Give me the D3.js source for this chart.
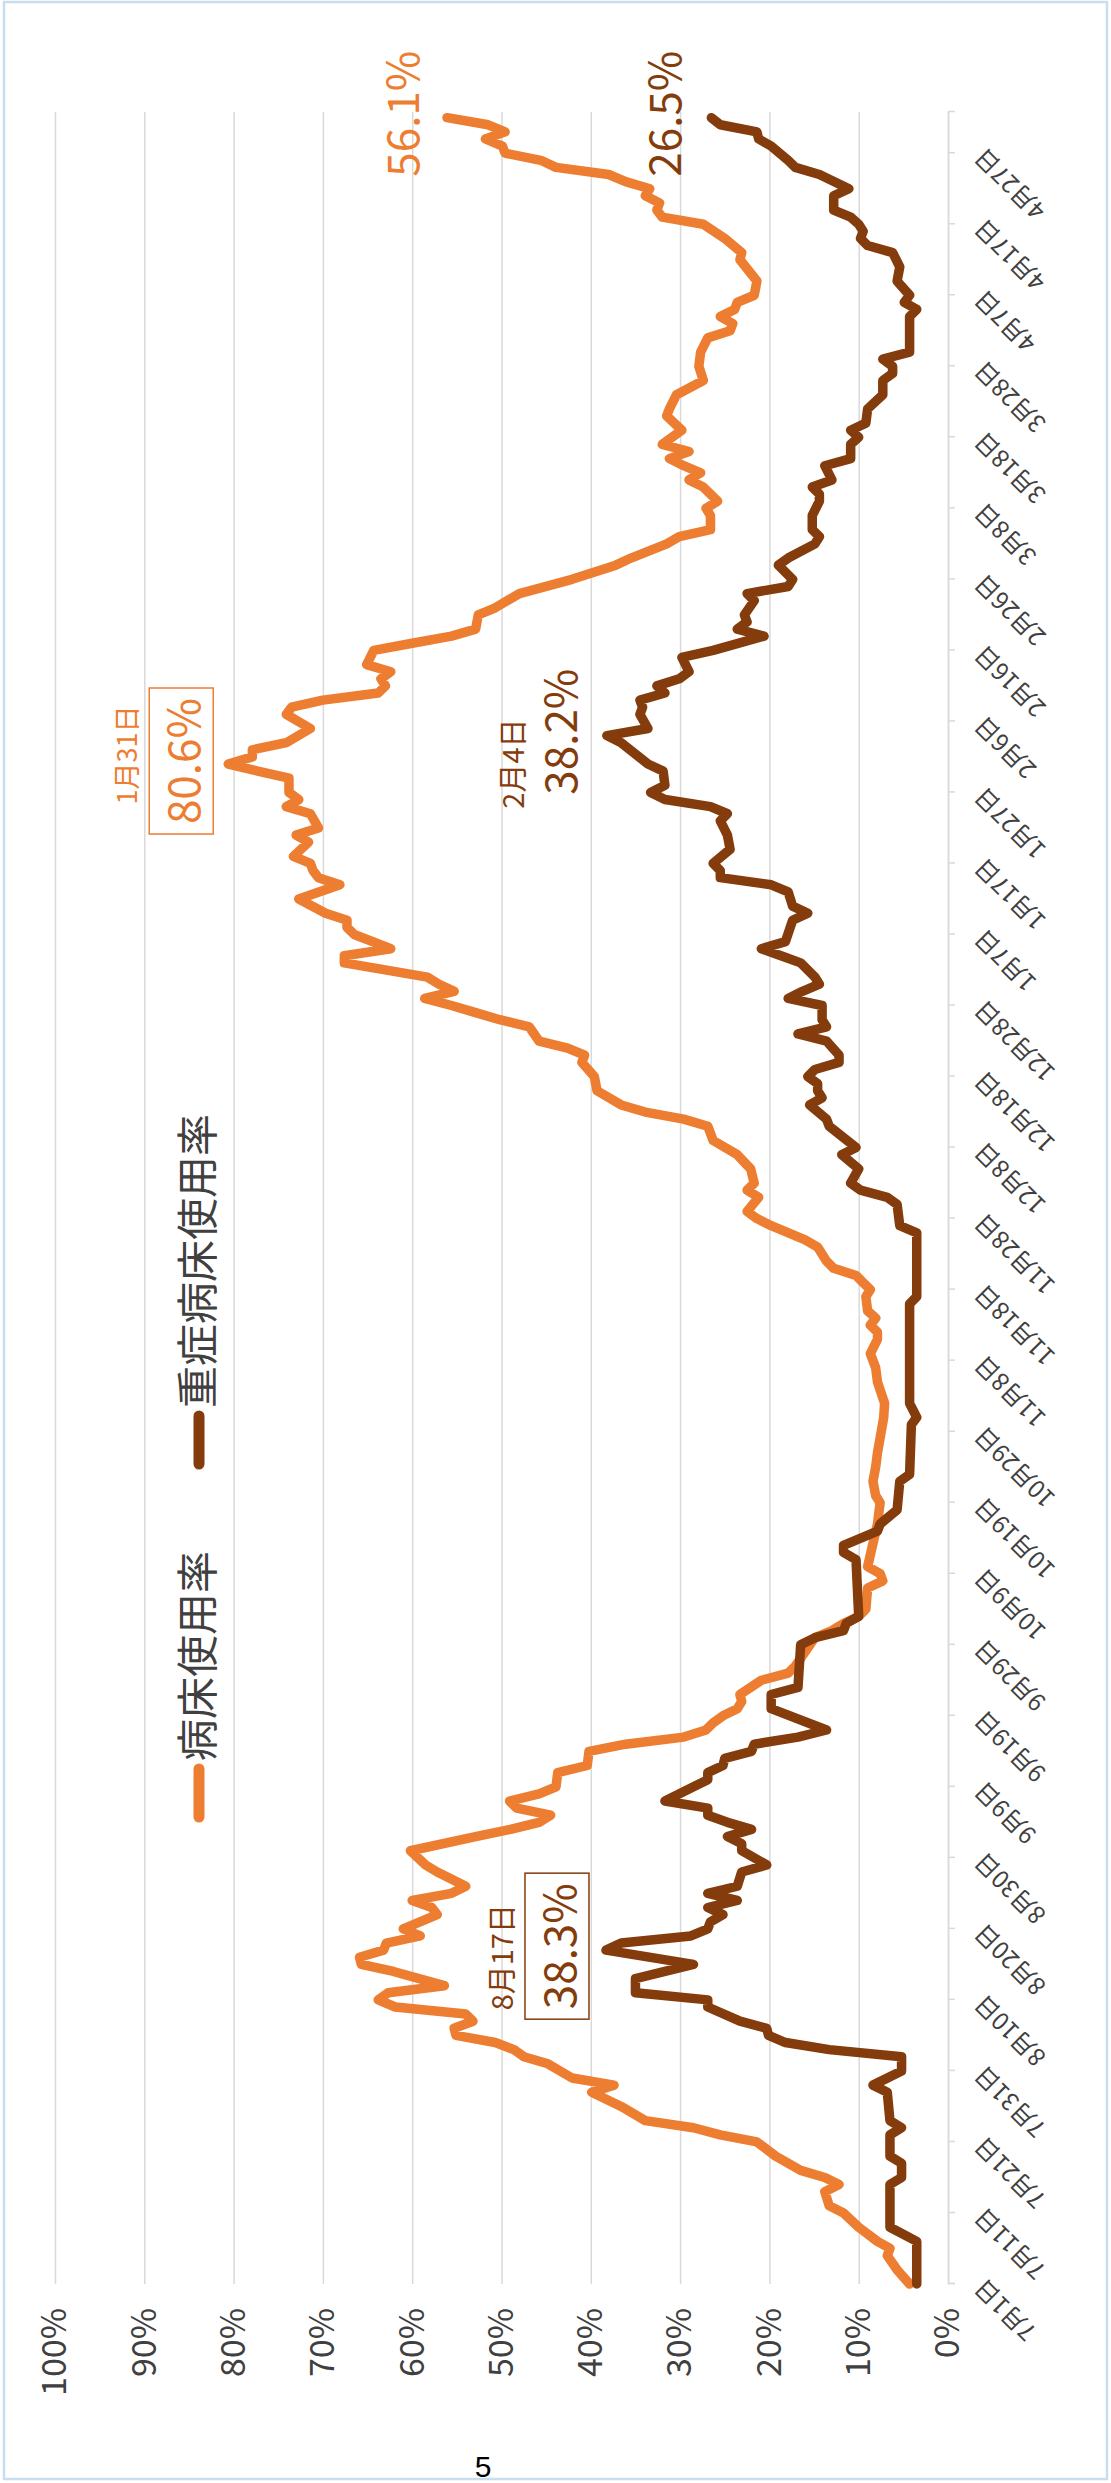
<!DOCTYPE html>
<html>
<head>
<meta charset="utf-8">
<script src="https://cdn.jsdelivr.net/npm/d3@7"></script>
<style>
  body { margin: 0; background: #fff; }
  svg { display: block; }
  text { font-family: "Noto Sans CJK JP", "Noto Sans", sans-serif; }
</style>
</head>
<body>
<div id="chart"></div>
<script>
var svgWidth = 1111;
var svgHeight = 2483;

// days counted from 2020-07-01, rates in %
var bedDays = [0,2,4,5,6,8,10,11,13,14,15,16,18,20,21,22,23,25,27,28,29,31,32,33,34,35,36,37,38,39,40,41,42,44,45,46,47,48,49,50,52,53,54,55,56,58,59,61,63,64,65,66,67,68,69,70,72,73,75,76,77,78,79,80,81,82,83,85,86,87,89,91,92,93,94,95,98,99,100,101,107,110,111,113,115,117,122,124,127,129,131,133,134,135,136,137,139,140,141,142,143,144,146,147,149,150,151,153,154,155,157,159,161,163,164,165,166,168,170,172,173,174,175,177,178,179,180,181,182,183,184,186,187,188,190,191,192,193,195,197,198,199,200,201,203,204,205,207,208,209,210,212,213,214,215,216,217,219,221,222,223,224,225,226,227,228,230,231,232,233,235,236,238,240,242,243,245,246,247,249,250,251,253,254,255,256,257,258,259,261,263,264,266,268,270,272,274,275,276,277,278,279,280,282,285,286,288,290,291,292,293,294,295,296,297,298,299,300,301,302,303,304,305];
var bedRate = [4.3,5.7,6.8,6.5,7.9,10.0,11.7,13.3,13.8,12.2,13.8,16.5,19.3,21.4,25.5,28.5,33.9,36.6,39.9,37.4,42.1,44.8,47.5,48.6,50.7,55.1,55.3,53.2,54.0,61.9,63.8,62.7,56.4,62.1,65.7,65.9,63.2,62.9,59.1,61.0,57.2,57.8,60.0,55.6,54.0,57.2,58.5,60.2,52.9,49.0,45.8,44.5,48.3,49.1,45.8,43.9,43.7,40.4,40.2,36.1,29.6,27.1,26.3,25.2,23.6,23.1,23.3,20.9,17.9,17.1,16.0,14.9,13.0,11.7,10.0,9.2,9.0,7.3,7.6,9.0,7.9,7.6,8.1,8.4,8.1,7.9,7.2,7.1,7.9,8.1,8.7,7.9,7.9,8.7,8.1,9.0,9.2,8.7,9.5,10.3,12.8,13.6,14.6,16.0,19.8,21.4,22.5,21.2,22.5,21.7,22.1,23.6,26.3,26.9,29.6,33.9,36.6,39.3,39.6,41.0,40.7,42.6,45.8,46.9,50.2,52.9,55.6,58.6,55.3,57.0,58.3,67.6,67.6,62.4,66.5,67.3,67.3,69.7,72.7,68.1,70.5,71.1,71.4,73.3,71.6,73.0,70.5,71.4,74.1,72.7,73.8,73.8,77.3,80.6,77.9,77.9,74.1,71.4,74.1,73.5,70.0,63.8,63.0,63.5,62.4,65.1,64.3,60.0,55.6,52.9,52.6,50.7,48.0,42.1,37.2,35.5,31.5,30.1,26.6,26.6,27.1,25.8,27.4,29.0,27.7,29.6,31.2,29.0,32.0,29.8,31.5,31.2,30.4,27.4,27.9,27.7,26.9,24.4,24.1,25.5,23.9,23.6,21.7,21.4,23.3,23.1,25.0,27.4,32.0,32.6,32.3,33.9,33.4,36.1,38.0,43.9,45.6,49.6,49.9,51.8,49.6,51.5,56.1];

var severeDays = [0,6,8,14,15,17,18,21,22,23,27,28,30,32,33,34,35,36,37,39,40,41,43,45,47,48,49,50,51,52,53,54,55,56,58,59,61,62,63,64,65,66,67,68,70,71,72,73,74,75,76,77,78,81,83,84,90,91,92,93,94,102,103,104,106,107,109,113,114,121,122,124,138,139,148,149,152,153,154,155,157,159,160,163,164,166,167,168,169,170,171,172,173,175,176,177,178,180,181,182,183,184,186,187,188,189,192,193,194,196,197,198,199,200,202,204,206,207,208,209,210,211,213,214,217,218,219,221,222,223,224,225,226,227,229,230,232,233,234,235,237,238,239,240,242,243,245,246,247,249,251,252,253,254,256,257,259,260,261,262,264,266,268,269,270,271,272,277,278,279,280,282,284,286,287,288,289,290,291,292,294,295,297,298,299,301,302,303,304,305];
var severeRate = [3.5,3.5,6.5,6.5,5.2,5.2,6.5,6.5,5.2,6.5,6.8,8.4,5.2,5.2,13.3,18.2,20.1,20.3,23.3,26.9,26.9,35.0,35.0,28.5,38.3,36.6,28.8,26.9,26.6,25.2,26.9,23.6,26.9,23.6,23.1,20.3,23.1,23.1,24.7,22.0,24.7,26.9,26.9,31.7,28.5,26.9,26.9,25.2,25.0,22.0,21.7,16.8,13.6,19.8,19.8,16.8,16.5,14.9,11.7,11.4,10.0,10.3,11.7,11.7,7.9,7.6,5.7,5.4,4.3,4.1,3.5,4.3,4.3,3.5,3.5,5.4,5.7,6.8,9.8,10.9,10.0,11.9,10.3,13.3,13.6,15.5,14.1,14.6,14.6,15.7,14.9,12.2,12.2,13.6,16.8,13.6,14.1,14.1,17.9,16.3,14.4,14.9,16.5,18.7,20.9,18.2,17.4,15.7,17.4,17.9,19.8,25.5,25.5,26.3,24.4,24.7,25.5,24.7,26.6,31.7,33.3,31.7,31.9,33.6,36.6,38.2,33.6,34.5,34.2,34.5,31.7,32.6,30.1,29.0,29.8,26.3,20.6,23.6,22.5,22.8,21.7,22.5,17.9,17.4,19.0,17.9,14.9,14.4,15.2,15.2,14.4,14.4,15.2,13.0,13.8,10.9,10.9,10.0,10.9,9.2,9.0,7.3,7.3,6.2,6.2,7.3,4.3,4.3,3.5,4.9,4.3,5.7,5.4,6.2,9.0,9.8,9.5,10.0,10.9,12.8,12.8,11.1,14.4,17.1,17.9,19.8,21.2,21.4,25.5,26.5];

var seriesNames = ["病床使用率", "重症病床使用率"];
var seriesColors = ["#ED7D31", "#843C0C"];

var percentTicks = [0, 10, 20, 30, 40, 50, 60, 70, 80, 90, 100];
var dateTickDays = [0, 10, 20, 30, 40, 50, 60, 70, 80, 90, 100, 110, 120, 130, 140, 150, 160, 170, 180, 190, 200, 210, 220, 230, 240, 250, 260, 270, 280, 290, 300];
var dateTickLabels = ["7月1日", "7月11日", "7月21日", "7月31日", "8月10日", "8月20日", "8月30日", "9月9日", "9月19日", "9月29日", "10月9日", "10月19日", "10月29日", "11月8日", "11月18日", "11月28日", "12月8日", "12月18日", "12月28日", "1月7日", "1月17日", "1月27日", "2月6日", "2月16日", "2月26日", "3月8日", "3月18日", "3月28日", "4月7日", "4月17日", "4月27日"];

// the chart is printed turned a quarter to the left:
// "width" runs along the dates (page bottom -> top), "height" along the rates
var width = 2172;
var height = 893;
var origin = { x: 55, y: 2284 };

var start = new Date(Date.UTC(2020, 6, 1));
function dayToDate(d) { return d3.utcDay.offset(start, d); }

var svg = d3.select("#chart")
  .append("svg")
  .attr("width", svgWidth)
  .attr("height", svgHeight);

// page frame
svg.append("rect")
  .attr("x", 4).attr("y", 2)
  .attr("width", 1103).attr("height", 2477)
  .attr("fill", "none")
  .attr("stroke", "#c9ddf0")
  .attr("stroke-width", 2.5);

// page number
svg.append("text")
  .attr("x", 483).attr("y", 2477)
  .attr("text-anchor", "middle")
  .style("font-family", "'Liberation Sans Narrow', 'Liberation Sans', sans-serif")
  .style("font-size", "30px")
  .attr("fill", "#000")
  .text("5");

var chartGroup = svg.append("g")
  .attr("transform", `translate(${origin.x}, ${origin.y}) rotate(-90)`);

var xScale = d3.scaleUtc()
  .domain([start, new Date(start.getTime() + 305.8 * 864e5)])
  .range([0, width]);

var yScale = d3.scaleLinear()
  .domain([0, 100])
  .range([height, 0]);

// gridlines + percent labels
var leftAxis = d3.axisLeft(yScale)
  .tickValues(percentTicks)
  .tickSize(-width)
  .tickPadding(24)
  .tickFormat(d => d + "%");

var yAxis = chartGroup.append("g").call(leftAxis);
yAxis.select(".domain").remove();
yAxis.selectAll("line").attr("stroke", "#d9d9d9").attr("stroke-width", 1.5);
yAxis.selectAll("text")
  .attr("fill", "#404040")
  .style("font-size", "34px");

// date axis at 0%
var bottomAxis = d3.axisBottom(xScale)
  .tickValues(dateTickDays.map(dayToDate))
  .tickSize(7)
  .tickFormat((d, i) => dateTickLabels[i]);

var xAxis = chartGroup.append("g")
  .attr("transform", `translate(0, ${height})`)
  .call(bottomAxis);
xAxis.select(".domain").attr("stroke", "#d9d9d9").attr("stroke-width", 1.5);
xAxis.selectAll("line").attr("stroke", "#d9d9d9").attr("stroke-width", 1.5);
xAxis.selectAll("text")
  .attr("x", 0)
  .attr("y", 0)
  .attr("dy", "0.35em")
  .attr("text-anchor", "end")
  .attr("transform", "translate(0, 31) rotate(-45)")
  .attr("fill", "#404040")
  .style("font-size", "24px");

// lines
var lineGen = d3.line()
  .x(d => xScale(d.date))
  .y(d => yScale(d.value));

var bedData = bedDays.map((d, i) => ({ date: dayToDate(d), value: bedRate[i] }));
var severeData = severeDays.map((d, i) => ({ date: dayToDate(d), value: severeRate[i] }));

[bedData, severeData].forEach(function(data, i) {
  chartGroup.append("path")
    .datum(data)
    .attr("d", lineGen)
    .attr("fill", "none")
    .attr("stroke", seriesColors[i])
    .attr("stroke-width", 9.5)
    .attr("stroke-linejoin", "round")
    .attr("stroke-linecap", "round");
});

// legend
var legendStart = [461, 814];
seriesNames.forEach(function(name, i) {
  var g = chartGroup.append("g")
    .attr("transform", `translate(${legendStart[i]}, 0)`);
  g.append("line")
    .attr("x1", 6).attr("x2", 54)
    .attr("y1", 144).attr("y2", 144)
    .attr("stroke", seriesColors[i])
    .attr("stroke-width", 11)
    .attr("stroke-linecap", "round");
  g.append("text")
    .attr("x", 62)
    .attr("y", 139)
    .attr("dominant-baseline", "central")
    .attr("fill", "#404040")
    .style("font-size", "42px")
    .text(name);
});

// data callouts
function callout(day, value, text, color, opts) {
  var u = xScale(dayToDate(day)) + (opts.du || 0);
  var v = yScale(value) + (opts.dv || 0);
  var t = chartGroup.append("text")
    .attr("x", u)
    .attr("y", v)
    .attr("text-anchor", opts.anchor || "middle")
    .attr("dominant-baseline", "central")
    .attr("fill", color)
    .style("font-size", opts.size + "px")
    .text(text);
  if (opts.box) {
    var bb = t.node().getBBox();
    chartGroup.append("rect")
      .attr("x", bb.x - 10)
      .attr("y", v - 32)
      .attr("width", bb.width + 20)
      .attr("height", 64)
      .attr("fill", "none")
      .attr("stroke", color)
      .attr("stroke-width", 1.5);
  }
}

var orange = seriesColors[0];
var brown = seriesColors[1];

callout(214, 80.6, "80.6%", orange, { size: 44, dv: -47, du: 3, box: true });
callout(214, 80.6, "1月31日", orange, { size: 27, dv: -103, du: 9 });
callout(218, 38.2, "38.2%", brown, { size: 44, dv: -49, du: 4 });
callout(218, 38.2, "2月4日", brown, { size: 29, dv: -96, du: -28 });
callout(47, 38.3, "38.3%", brown, { size: 44, dv: -49, du: 4, box: true });
callout(47, 38.3, "8月17日", brown, { size: 29, dv: -106, du: -7 });
callout(305, 56.1, "56.1%", orange, { size: 44, dv: -47, du: -59, anchor: "start" });
callout(305, 26.5, "26.5%", brown, { size: 44, dv: -49, du: -59, anchor: "start" });
</script>
</body>
</html>
